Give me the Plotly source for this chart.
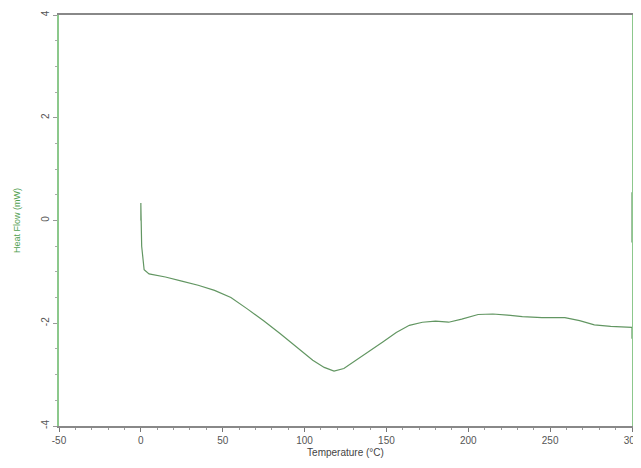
import plotly.graph_objects as go

# Temperature (°C) and heat flow (mW)
temperature = [0, 0, 0, 0.5, 2, 5, 15, 25, 35, 45, 55, 65, 75, 85, 95, 105, 112, 118, 124, 132,
               140, 148, 156, 164, 172, 180, 188, 196, 206, 215, 224, 233, 245, 259, 268, 277,
               287, 296, 300, 300, None, 300, 300]
heat_flow = [0.34, 0.0, 0.3, -0.5, -0.96, -1.04, -1.1, -1.18, -1.26, -1.36, -1.5, -1.72, -1.95,
             -2.2, -2.46, -2.72, -2.86, -2.93, -2.88, -2.71, -2.54, -2.36, -2.18, -2.04, -1.98,
             -1.96, -1.98, -1.92, -1.83, -1.82, -1.84, -1.87, -1.89, -1.89, -1.95, -2.03,
             -2.06, -2.07, -2.08, -2.3, None, 0.55, -0.43]

x_ticks = [-50, 0, 50, 100, 150, 200, 250, 300]
y_ticks = [-4, -2, 0, 2, 4]

fig = go.Figure()
fig.add_trace(go.Scatter(
    x=temperature, y=heat_flow, mode="lines",
    line=dict(color="rgb(98,150,98)", width=1.2),
    connectgaps=False, showlegend=False, hoverinfo="skip",
))

# the page body has an 8px margin, so the figure is offset by 8px in the window
fig.update_layout(
    width=633, height=452,
    margin=dict(l=51, r=9, t=7, b=34),
    paper_bgcolor="white", plot_bgcolor="white",
    font=dict(family="Liberation Sans, Arial, sans-serif", size=9, color="#555"),
    xaxis=dict(
        range=[-50, 300], tickvals=x_ticks, ticktext=[str(v) for v in x_ticks],
        automargin=False, ticklabeloverflow="allow",
        showgrid=False, zeroline=False,
        showline=True, mirror=True, linecolor="#888", linewidth=1.5,
        ticks="outside", ticklen=4, tickcolor="#777", tickwidth=1,
        minor=dict(dtick=10, ticks="outside", ticklen=2, tickcolor="#999", showgrid=False),
        tickfont=dict(size=10, color="#555"),
        title=dict(text="Temperature (°C)", font=dict(size=10, color="#444"), standoff=4),
    ),
    yaxis=dict(
        range=[-4, 4], tickvals=y_ticks, ticktext=[str(v) for v in y_ticks],
        automargin=False, ticklabeloverflow="allow",
        showgrid=False, zeroline=False,
        showline=True, mirror=True, linecolor="rgb(140,200,140)", linewidth=1.5,
        ticks="outside", ticklen=4, tickcolor="#999", tickwidth=1,
        minor=dict(dtick=0.5, ticks="outside", ticklen=2, tickcolor="#aaa", showgrid=False),
        tickangle=-90,
        tickfont=dict(size=10, color="#555"),
        title=dict(text="Heat Flow (mW)", font=dict(size=9, color="rgb(80,160,80)"), standoff=18),
    ),
)

fig.write_html("out.html")
